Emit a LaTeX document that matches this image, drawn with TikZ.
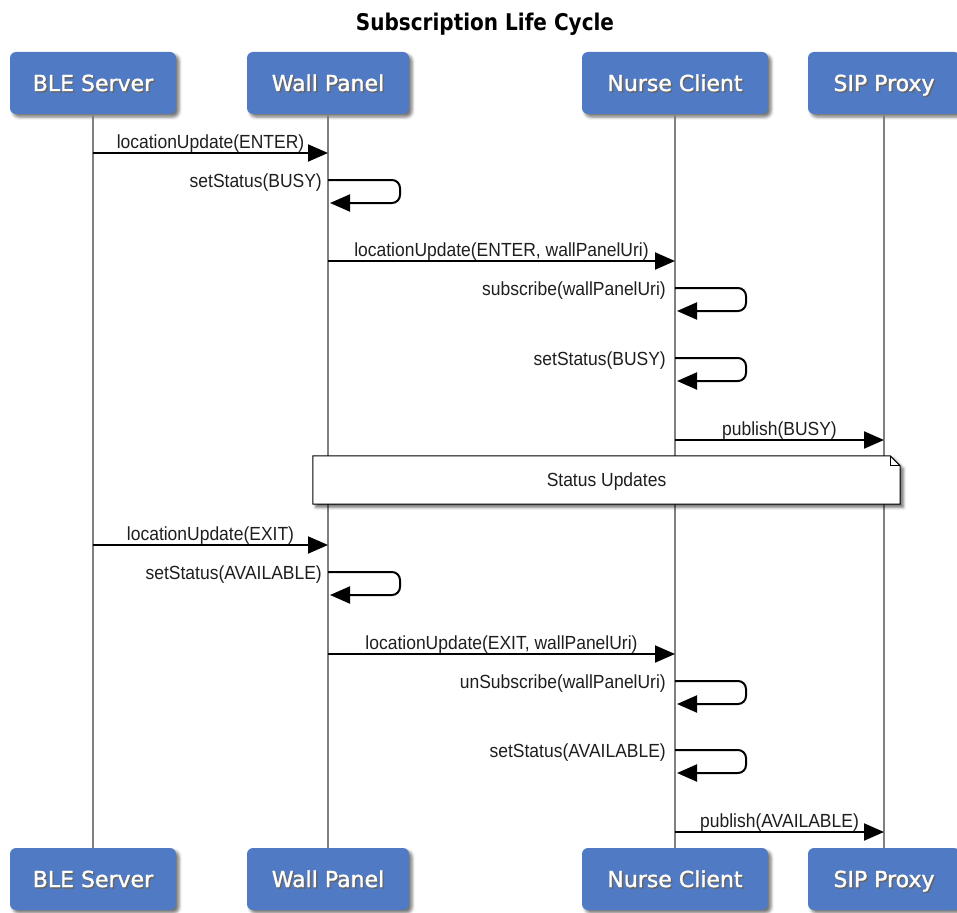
\documentclass[tikz,border=0pt]{standalone}
\usepackage{fontspec}
\setmainfont{Liberation Sans}
\newfontfamily\lblfont{Liberation Sans}[FakeStretch=0.92]
\newfontfamily\boxfont{DejaVu Sans}[FakeBold=1.3]
\newfontfamily\titlefont{DejaVu Sans Bold}[FakeStretch=0.87]
\usetikzlibrary{arrows.meta,shadows.blur}

\definecolor{actorblue}{RGB}{80,123,196}
\definecolor{lifegray}{RGB}{128,128,128}
\definecolor{inkgray}{RGB}{30,30,30}

% white caption with a soft dark drop behind it
\newcommand\shadowed[1]{\makebox[0pt][l]{\kern1.5pt\raisebox{-1.5pt}{\color{black!60}#1}}#1}

\begin{document}
\begin{tikzpicture}[x=1pt,y=-1pt,
  actor/.style={rounded corners=6pt, fill=actorblue, minimum width=#1,
    minimum height=62pt, inner sep=0pt, text=white,
    text height=16pt, text depth=0pt,
    font=\boxfont\fontsize{22}{26}\selectfont,
    blur shadow={shadow xshift=3pt, shadow yshift=-3pt,
      shadow blur radius=3pt, shadow opacity=55}},
  lifeline/.style={draw=lifegray, line width=1.5pt},
  msg/.style={draw=black, line width=2pt,
    -{Triangle[length=20pt,width=17pt]}},
  selfmsg/.style={msg, rounded corners=8pt},
  lbl/.style={font=\lblfont\fontsize{19}{22}\selectfont, text=inkgray,
    inner sep=0pt},
  notebox/.style={minimum width=587pt, minimum height=48pt, inner sep=0pt,
    font=\lblfont\fontsize{19}{22}\selectfont, text=inkgray},
]
\useasboundingbox (0,0) rectangle (957,912);

% title
\node[font=\titlefont\fontsize{23}{27}\selectfont, anchor=base] (title)
  at (485,31) {Subscription Life Cycle};

% participants, top and bottom
\node[actor=166pt] (bleT) at (93,83)  {\shadowed{BLE Server}};
\node[actor=162pt] (wpT)  at (328,83) {\shadowed{Wall Panel}};
\node[actor=186pt] (ncT)  at (675,83) {\shadowed{Nurse Client}};
\node[actor=152pt] (sipT) at (884,83) {\shadowed{SIP Proxy}};

\node[actor=166pt] (bleB) at (93,879)  {\shadowed{BLE Server}};
\node[actor=162pt] (wpB)  at (328,879) {\shadowed{Wall Panel}};
\node[actor=186pt] (ncB)  at (675,879) {\shadowed{Nurse Client}};
\node[actor=152pt] (sipB) at (884,879) {\shadowed{SIP Proxy}};

% lifelines
\draw[lifeline] (bleT) -- (bleB);
\draw[lifeline] (wpT) -- (wpB);
\draw[lifeline] (ncT) -- (ncB);
\draw[lifeline] (sipT) -- (sipB);

% message anchors on the lifelines
\coordinate (m1a) at (93,153);  \coordinate (m1b) at (328,153);
\coordinate (s1a) at (328,180); \coordinate (s1b) at (330,203);
\coordinate (m2a) at (328,261); \coordinate (m2b) at (675,261);
\coordinate (s2a) at (675,288); \coordinate (s2b) at (677,311);
\coordinate (s3a) at (675,358); \coordinate (s3b) at (677,381);
\coordinate (m3a) at (675,440); \coordinate (m3b) at (884,440);
\coordinate (m4a) at (93,545);  \coordinate (m4b) at (328,545);
\coordinate (s4a) at (328,572); \coordinate (s4b) at (330,595);
\coordinate (m5a) at (328,654); \coordinate (m5b) at (675,654);
\coordinate (s5a) at (675,681); \coordinate (s5b) at (677,704);
\coordinate (s6a) at (675,750); \coordinate (s6b) at (677,773);
\coordinate (m6a) at (675,832); \coordinate (m6b) at (884,832);

% entering the room
\draw[msg] (m1a) -- node[lbl, anchor=base, yshift=4.5pt] {locationUpdate(ENTER)} (m1b);
\draw[selfmsg] (s1a) -- ++(72,0) -- ++(0,23) -- (s1b);
\node[lbl, anchor=base east, xshift=-6pt, yshift=-7pt] at (s1a) {setStatus(BUSY)};

\draw[msg] (m2a) -- node[lbl, anchor=base, yshift=4.5pt] {locationUpdate(ENTER, wallPanelUri)} (m2b);
\draw[selfmsg] (s2a) -- ++(71,0) -- ++(0,23) -- (s2b);
\node[lbl, anchor=base east, xshift=-9pt, yshift=-7pt] at (s2a) {subscribe(wallPanelUri)};
\draw[selfmsg] (s3a) -- ++(71,0) -- ++(0,23) -- (s3b);
\node[lbl, anchor=base east, xshift=-9pt, yshift=-7pt] at (s3a) {setStatus(BUSY)};

\draw[msg] (m3a) -- node[lbl, anchor=base, yshift=4.5pt] {publish(BUSY)} (m3b);

% note spanning Wall Panel to SIP Proxy
\node[notebox] (note) at (606.5,480) {};
\path[fill=white, draw=black, line width=1pt,
  blur shadow={shadow xshift=3pt, shadow yshift=-3pt, shadow blur radius=3pt, shadow opacity=60}]
  (note.north west) -- ([xshift=-10pt]note.north east) -- ([yshift=-10pt]note.north east)
  -- (note.south east) -- (note.south west) -- cycle;
\draw[line width=0.8pt] ([xshift=-10pt]note.north east) -- ([xshift=-10pt,yshift=-10pt]note.north east)
  -- ([yshift=-10pt]note.north east);
\node[lbl, yshift=-2pt] at (note) {Status Updates};

% leaving the room
\draw[msg] (m4a) -- node[lbl, anchor=base, yshift=4.5pt] {locationUpdate(EXIT)} (m4b);
\draw[selfmsg] (s4a) -- ++(72,0) -- ++(0,23) -- (s4b);
\node[lbl, anchor=base east, xshift=-6pt, yshift=-7pt] at (s4a) {setStatus(AVAILABLE)};

\draw[msg] (m5a) -- node[lbl, anchor=base, yshift=4.5pt] {locationUpdate(EXIT, wallPanelUri)} (m5b);
\draw[selfmsg] (s5a) -- ++(71,0) -- ++(0,23) -- (s5b);
\node[lbl, anchor=base east, xshift=-9pt, yshift=-7pt] at (s5a) {unSubscribe(wallPanelUri)};
\draw[selfmsg] (s6a) -- ++(71,0) -- ++(0,23) -- (s6b);
\node[lbl, anchor=base east, xshift=-9pt, yshift=-7pt] at (s6a) {setStatus(AVAILABLE)};

\draw[msg] (m6a) -- node[lbl, anchor=base, yshift=4.5pt] {publish(AVAILABLE)} (m6b);
\end{tikzpicture}
\end{document}
